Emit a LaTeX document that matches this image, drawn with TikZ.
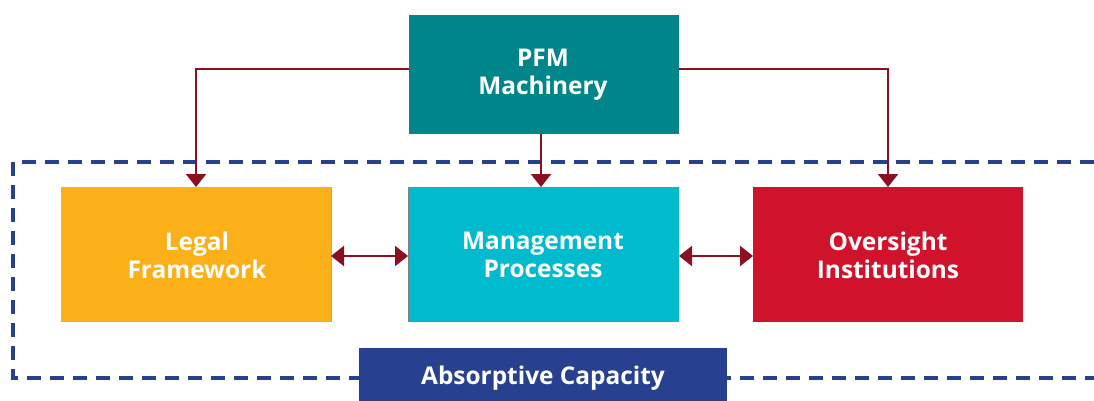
\documentclass[tikz,border=0pt]{standalone}
\usepackage{fontspec}
\setmainfont{Open Sans}
\usetikzlibrary{arrows.meta}
\definecolor{teal1}{HTML}{00858A}
\definecolor{orange1}{HTML}{FBAF18}
\definecolor{cyan1}{HTML}{00BACE}
\definecolor{red1}{HTML}{D0122A}
\definecolor{blue1}{HTML}{27408F}
\definecolor{arrowred}{HTML}{8B1020}
\begin{document}
\begin{tikzpicture}[x=1pt,y=-1pt,
  boxlbl/.style={text=white,font=\fontsize{24.4}{28}\selectfont\bfseries,align=center},
  conn/.style={draw=arrowred,line width=2.3pt,-{Triangle[width=20pt,length=13pt]}},
  dconn/.style={draw=arrowred,line width=2.3pt,{Triangle[width=20pt,length=13pt]}-{Triangle[width=20pt,length=13pt]}}]
\useasboundingbox (0,0) rectangle (1094,401);
% dashed frame
\draw[blue1,line width=4pt,dash pattern=on 14pt off 9pt] (1094,162) -- (13,162) -- (13,378) -- (1094,378);
% boxes
\fill[teal1] (409,15) rectangle (679,134);
\node[boxlbl] (pfm) at (543,75) {PFM\\Machinery};
\coordinate (pfmL) at (409,69);
\coordinate (pfmR) at (679,69);
\coordinate (pfmB) at (541,134);
\fill[orange1] (61,187) rectangle (331,322);
\draw[draw=orange1!70!brown,line width=0.6pt] (331,187) -- (331,322);
\node[boxlbl] (legal) at (197,255) {Legal\\Framework};
\fill[cyan1] (408,187) rectangle (679,322);
\draw[gray,line width=1pt] (408,187) -- (408,322);
\node[boxlbl] (mgmt) at (543,255) {Management\\Processes};
\fill[red1] (753,187) rectangle (1023,322);
\node[boxlbl] (over) at (888,255) {Oversight\\Institutions};
\fill[blue1] (359,348) rectangle (727,401);
\node[boxlbl] (abs) at (543,378) {Absorptive Capacity};
% coordinates
\coordinate (legalT) at (196,187);
\coordinate (mgmtT) at (541,187);
\coordinate (overT) at (888,187);
\coordinate (legalR) at (331,256);
\coordinate (mgmtL) at (408,256);
\coordinate (mgmtR) at (679,256);
\coordinate (overL) at (753,256);
% connectors
\draw[conn] (pfmL) -| (legalT);
\draw[conn] (pfmR) -| (overT);
\draw[conn] (pfmB) -- (mgmtT);
\draw[dconn] (legalR) -- (mgmtL);
\draw[dconn] (mgmtR) -- (overL);
\end{tikzpicture}
\end{document}
